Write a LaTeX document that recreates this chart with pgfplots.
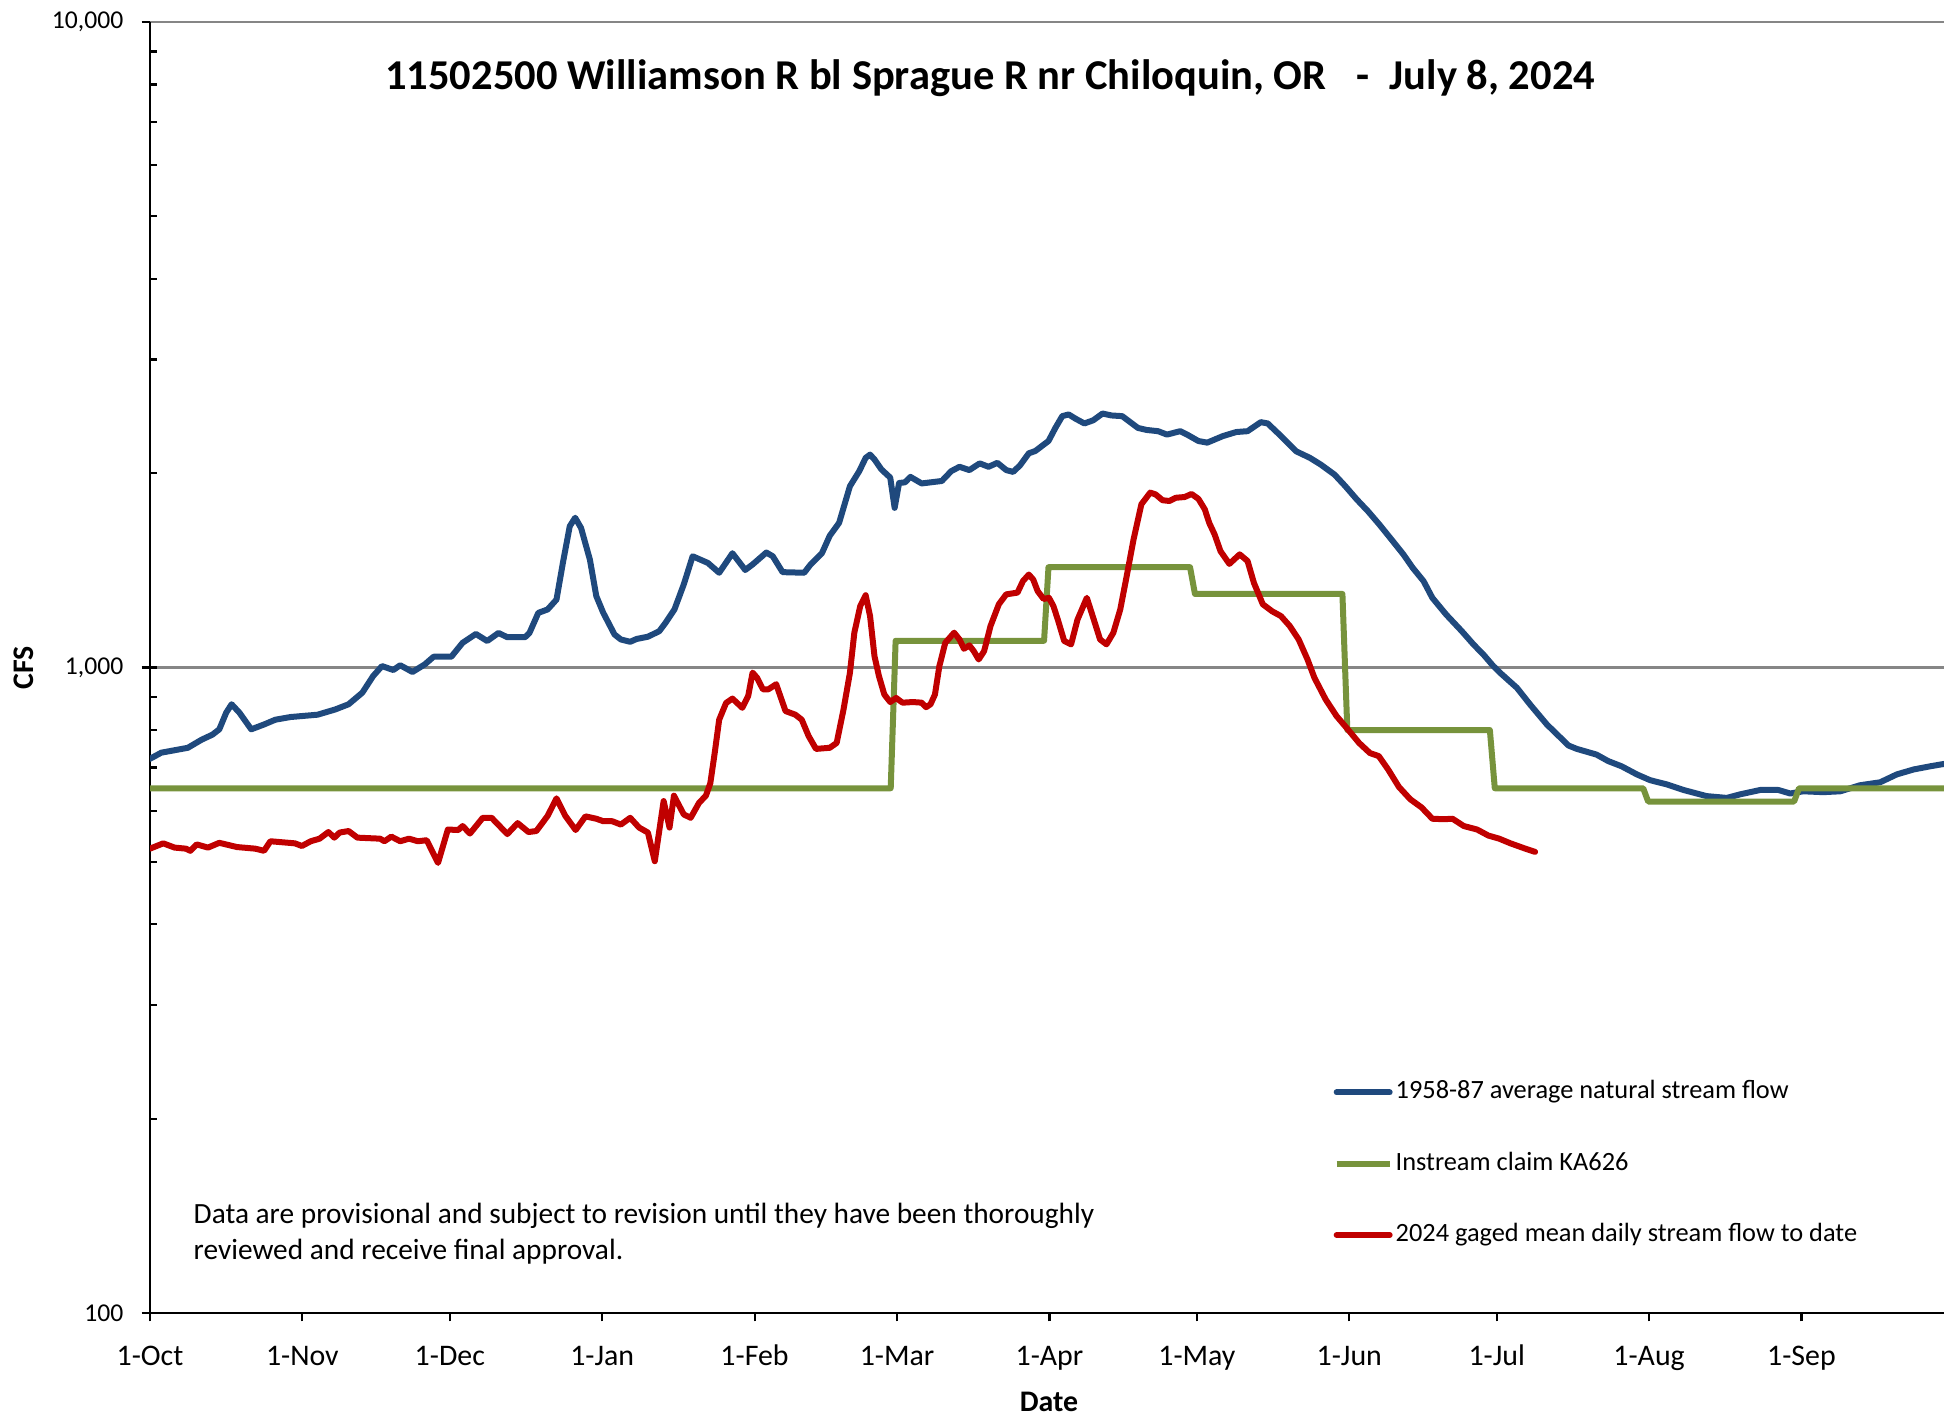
\documentclass[border=0pt]{standalone}
\usepackage{fontspec}
\setmainfont{Carlito}
\usepackage{pgfplots}
\pgfplotsset{compat=1.18}
\definecolor{cblue}{RGB}{31,73,125}
\definecolor{cgreen}{RGB}{119,147,60}
\definecolor{cred}{RGB}{192,0,0}
\definecolor{cgrid}{RGB}{134,134,134}
\begin{document}
\begin{tikzpicture}[x=1cm,y=1cm]
\path[use as bounding box] (0,0) rectangle (19.44,14.18);
\begin{axis}[
  at={(1.5cm,1.05cm)}, anchor=south west,
  scale only axis, width=17.94cm, height=12.91cm,
  xmin=0, xmax=365, ymode=log, ymin=100, ymax=10000,
  axis x line*=bottom, axis y line*=left,
  axis line style={black, line width=0.7pt},
  xtick={0,31,61,92,123,152,183,213,244,274,305,336},
  xticklabels={1-Oct,1-Nov,1-Dec,1-Jan,1-Feb,1-Mar,1-Apr,1-May,1-Jun,1-Jul,1-Aug,1-Sep},
  ytick={100,1000,10000},
  yticklabels={100,{1,000},{10,000}},
  ymajorgrids, major grid style={cgrid, line width=0.6pt},
  tick align=outside, major tick length=0.085cm, minor tick length=0.07cm,
  tick style={black, line width=0.6pt},
  every minor y tick/.append style={xshift=0.07cm},
  xticklabel style={font=\fontsize{8.5}{10}\selectfont, inner sep=0pt, yshift=-0.235cm,
    text height=0.2cm, text depth=0.07cm},
  yticklabel style={font=\fontsize{7.3}{9}\selectfont, inner sep=0pt, xshift=-0.175cm},
  legend style={at={(0.6594,0.1828)}, anchor=north west, draw=none, fill=none,
    font=\fontsize{7.5}{9}\selectfont, row sep=0.417cm, inner sep=0pt,
    nodes={inner sep=0.03cm}},
  legend cell align=left,
  legend image code/.code={\draw[#1] (0cm,0cm) -- (0.53cm,0cm);},
  every axis plot/.append style={line width=0.06cm, line join=round, line cap=round},
]
\addplot[cblue] coordinates {
(0,722) (2.3,738) (7.7,751) (10.5,773) (12.7,787) (14.1,802) (15.5,851) (16.6,877)
(18.2,851) (20.6,802) (23.2,816) (25.5,830) (28.6,838) (34.1,845) (37.7,861) (40.4,877)
(43.2,914) (45.4,970) (47.2,1005) (49.5,991) (50.9,1008) (53.4,984) (55.9,1011) (57.7,1039)
(61.3,1039) (63.6,1092) (66.3,1127) (68.6,1099) (70.9,1131) (72.7,1114) (76.3,1114) (77.2,1131)
(79.0,1215) (80.9,1230) (82.7,1274) (84.0,1452) (85.4,1655) (86.5,1706) (87.7,1645) (89.5,1469)
(90.8,1290) (92.2,1216) (94.5,1125) (95.8,1105) (97.7,1096) (99.0,1107) (101.3,1116) (103.6,1138)
(104.9,1173) (106.7,1230) (108.6,1345) (110.4,1487) (113.5,1452) (115.8,1402) (118.5,1503) (121.1,1416)
(122.6,1444) (125.4,1507) (126.7,1487) (128.7,1405) (133.1,1402) (134.4,1444) (136.7,1503) (138.3,1600)
(140.2,1675) (142.4,1909) (144.3,2014) (145.6,2112) (146.5,2137) (147.4,2100) (148.8,2027) (150.6,1969)
(151.5,1767) (152.4,1931) (153.6,1936) (154.7,1974) (157.0,1928) (161.1,1945) (163.0,2014) (164.7,2046)
(166.7,2022) (168.8,2071) (170.6,2046) (172.4,2075) (174.2,2022) (175.6,2009) (177.0,2056) (178.8,2147)
(180.1,2164) (182.8,2243) (184.2,2350) (185.6,2451) (186.9,2466) (188.3,2429) (190.1,2388) (191.9,2415)
(193.8,2474) (195.6,2457) (197.8,2451) (201.0,2350) (202.8,2333) (205.1,2323) (206.9,2295) (209.6,2323)
(211.0,2295) (213.3,2243) (215.1,2230) (218.3,2283) (221.0,2316) (223.3,2323) (226.0,2399) (227.4,2388)
(230.1,2283) (233.2,2162) (236.0,2112) (238.2,2062) (241.0,1990) (243.2,1909) (245.5,1822) (247.8,1746)
(250.1,1666) (252.8,1571) (255.0,1497) (256.9,1427) (259.1,1361) (260.9,1282) (263.7,1208) (266.9,1138)
(269.3,1085) (271.3,1047) (273.3,1005) (274.7,981) (278.1,930) (280.8,876) (284.2,816) (288.6,757)
(290.3,748) (294.3,733) (296.7,716) (299.4,703) (302.5,683) (305.2,669) (308.6,659) (312.0,646)
(316.7,632) (320.8,628) (323.5,636) (327.6,646) (331.3,646) (333.7,638) (336.4,643) (340.4,641)
(343.9,643) (347.9,657) (352.0,664) (355.4,683) (358.8,695) (362.2,703) (365.0,709)
};
\addlegendentry{1958-87 average natural stream flow}
\addplot[cgreen, line cap=butt] coordinates {
(0,650) (150.7,650) (151.7,1100) (181.9,1100) (182.8,1430) (211.6,1430) (212.6,1300)
(242.6,1300) (243.6,800) (272.6,800) (273.6,650) (303.8,650) (304.8,620) (334.5,620)
(335.5,650) (365,650)
};
\addlegendentry{Instream claim KA626}
\addplot[cred] coordinates {
(0,524) (2.7,534) (5.0,526) (7.3,524) (8.2,520) (9.5,532) (11.8,526) (14.1,535)
(17.7,527) (21.4,524) (23.2,520) (24.5,538) (29.5,534) (30.9,529) (32.7,538) (34.5,543)
(36.3,556) (37.5,545) (38.6,555) (40.4,558) (42.2,545) (46.8,543) (47.7,538) (49.1,547)
(50.9,538) (52.7,543) (54.5,538) (56.3,540) (58.6,498) (60.6,561) (62.7,560) (63.6,568)
(65.1,553) (67.7,585) (69.5,585) (72.7,552) (74.8,574) (77.0,556) (78.6,558) (80.9,589)
(82.7,627) (84.5,589) (86.6,560) (88.6,588) (90.8,583) (92.2,578) (94.0,578) (95.8,571)
(97.7,585) (99.5,565) (101.3,555) (102.7,501) (104.5,621) (105.7,565) (106.6,633) (108.6,592)
(110.0,585) (111.7,617) (113.1,633) (114.0,662) (114.9,738) (115.8,830) (117.2,881) (118.5,895)
(120.5,866) (121.7,903) (122.6,982) (123.5,964) (124.7,925) (125.8,925) (127.4,942) (129.3,856)
(131.3,845) (132.6,830) (134.0,783) (135.5,748) (138.3,751) (139.7,764) (141.1,861) (142.4,981)
(143.3,1132) (144.5,1245) (145.6,1294) (146.5,1201) (147.4,1041) (148.3,970) (149.4,908) (150.6,884)
(151.8,897) (153.1,882) (155.2,884) (157.0,882) (157.9,868) (158.8,877) (159.7,908) (160.6,1005)
(161.8,1092) (163.6,1132) (164.7,1105) (165.6,1069) (166.7,1082) (167.6,1060) (168.6,1029) (169.7,1060)
(171.0,1159) (172.7,1253) (174.2,1298) (176.5,1306) (177.6,1361) (178.8,1393) (179.7,1368) (180.6,1313)
(181.8,1277) (182.9,1282) (183.8,1245) (184.7,1186) (186.0,1099) (187.4,1086) (188.7,1186) (190.6,1282)
(191.9,1194) (193.3,1105) (194.6,1086) (196.0,1132) (197.4,1230) (198.7,1384) (200.1,1578) (201.7,1790)
(203.5,1866) (204.6,1854) (206.0,1816) (207.4,1811) (208.7,1832) (210.5,1837) (211.9,1857) (213.3,1825)
(214.6,1758) (215.5,1675) (216.6,1607) (217.8,1514) (219.6,1447) (221.7,1497) (223.3,1462) (224.6,1352)
(226.4,1253) (228.3,1222) (230.1,1201) (231.9,1159) (233.7,1105) (235.5,1029) (236.9,964) (239.2,892)
(241.4,841) (243.7,802) (246.0,764) (248.2,737) (250.0,729) (251.9,695) (254.1,653) (256.4,625)
(258.7,607) (260.9,583) (263.2,582) (265.0,583) (267.3,568) (270.0,561) (272.3,549) (274.5,543)
(276.8,534) (279.5,525) (281.8,518)
};
\addlegendentry{2024 gaged mean daily stream flow to date}
\end{axis}
\node[font=\fontsize{12.1}{14}\selectfont\bfseries] at (9.90,13.40)
  {11502500 Williamson R bl Sprague R nr Chiloquin, OR\hspace{0.3cm}-\hspace{0.2cm}July 8, 2024};
\node[font=\fontsize{8.5}{10}\selectfont\bfseries, rotate=90] at (0.24,7.50) {CFS};
\node[font=\fontsize{8.5}{10}\selectfont\bfseries] at (10.49,0.16) {Date};
\node[font=\fontsize{8.35}{10}\selectfont, anchor=base west, inner sep=0pt] at (1.93,1.94)
  {Data are provisional and subject to revision until they have been thoroughly};
\node[font=\fontsize{8.35}{10}\selectfont, anchor=base west, inner sep=0pt] at (1.93,1.58)
  {reviewed and receive final approval.};
\end{tikzpicture}
\end{document}
